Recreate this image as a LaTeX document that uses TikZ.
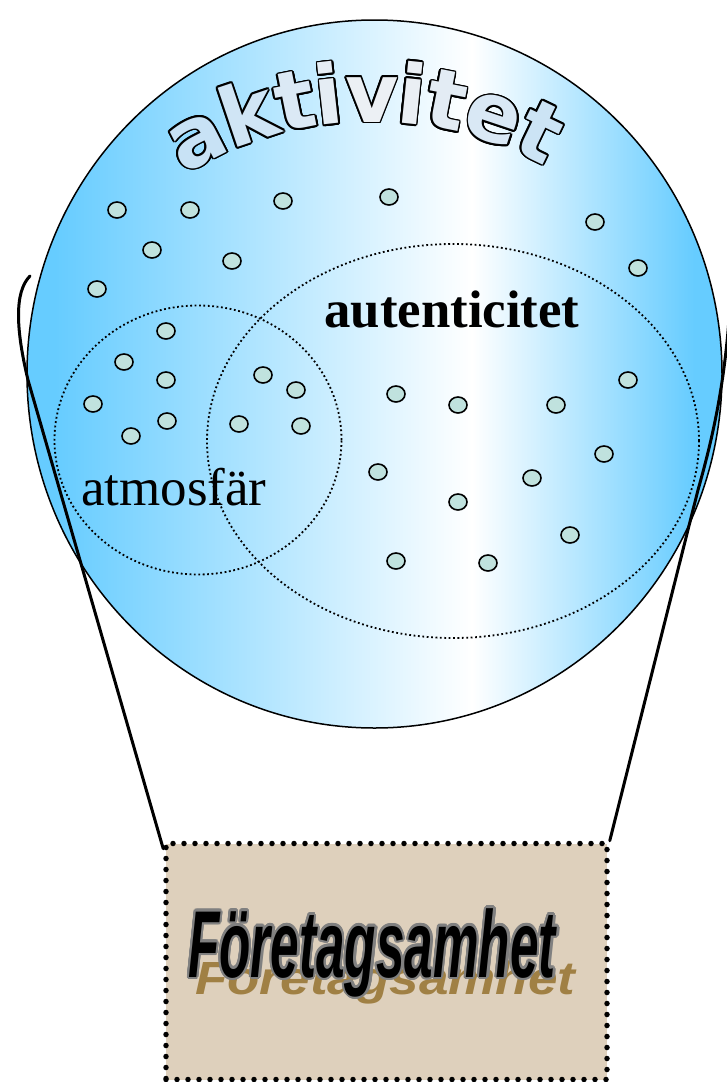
\documentclass[tikz,border=0pt]{standalone}
\usepackage{fontspec}
\setmainfont{Liberation Serif}
\newfontfamily\rubrikfont{DejaVu Sans}
\newfontfamily\firmafont{Liberation Sans}
\usepackage{graphicx}
\usepackage[copies]{contour}
\usetikzlibrary{shapes.geometric}

\definecolor{himmel}{RGB}{102,204,255}
\definecolor{prickfarg}{RGB}{192,226,222}
\definecolor{sack}{RGB}{222,208,188}
\definecolor{skugga}{RGB}{160,128,68}
\definecolor{bokstav}{RGB}{200,226,245}
\definecolor{bokstavgra}{RGB}{242,242,244}

\pgfdeclarehorizontalshading{ballongskugga}{100bp}{color(0bp)=(himmel); color(27bp)=(himmel); color(57bp)=(white); color(73bp)=(himmel); color(100bp)=(himmel)}

\tikzset{
  prick/.style={ellipse, draw, line width=1.6pt, fill=prickfarg, minimum width=18pt, minimum height=16pt, inner sep=0pt},
  mangd/.style={ellipse, draw, line width=1.8pt, dash pattern=on 1.8pt off 2.6pt, inner sep=0pt},
  rep/.style={line width=3pt, line cap=round},
  rubrik/.style={anchor=base, inner sep=0pt, font=\rubrikfont\bfseries\fontsize{82}{84}\selectfont},
}

\begin{document}
\begin{tikzpicture}[x=1pt, y=-1pt]
\useasboundingbox (0,0) rectangle (727,1082);
% ballongen
\node[ellipse, draw, line width=1.5pt, shade, shading=ballongskugga, minimum width=695pt, minimum height=708pt, inner sep=0pt] (ballong) at (374.5,374) {};
% mängderna
\node[mangd, minimum width=287pt, minimum height=269pt] (atmosmangd) at (198,440) {};
\node[mangd, minimum width=492pt, minimum height=394pt] (autentmangd) at (453,441) {};
\node[anchor=base, inner sep=0pt, font=\fontsize{52.8}{60}\selectfont\bfseries] (autent) at (452,327) {autenticitet};
\node[anchor=base west, inner sep=0pt, font=\fontsize{53}{60}\selectfont] (atmos) at (81,505) {atmosfär};
% prickar
\foreach \pos [count=\i] in {(117,210),(190,210),(283,201),(389,197),(595,222),(638,268),(152,250),(232,261),(97,289),
  (166,331),(124,362),(166,380),(93,404),(167,421),(131,436),(263,375),(296,390),(239,424),(301,426),
  (396,394),(458,405),(556,405),(628,380),(604,454),(378,472),(458,502),(532,478),(570,535),(396,561),(488,563)}
  \node[prick] (p\i) at \pos {};
% rubrik i båge
\foreach \ch/\ang/\ton [count=\i] in {a/-27.1/100,k/-18.6/80,t/-11.4/55,i/-6.4/30,v/0/15,i/5.9/20,t/11.1/35,e/18.5/60,t/25.7/90}
  \node[rubrik, rotate=-\ang] (akt\i) at ([shift={(372,482)}] \ang-90:360)
    {\color{bokstav!\ton!bokstavgra}\contourlength{1.7pt}\contour{black}{\ch}};
% korgen
\node[draw, line width=5.5pt, dash pattern=on 0pt off 11pt, line cap=round, fill=sack, minimum width=441pt, minimum height=236pt, inner sep=0pt] (firma) at (386.5,961.5) {};
\node[anchor=base west, inner sep=0pt, text=skugga, font=\firmafont\bfseries\itshape\fontsize{93}{95}\selectfont] (skuggtext) at (195,994) {\scalebox{0.57}[0.5]{Företagsamhet}};
\node[anchor=base west, inner sep=0pt, font=\firmafont\bfseries\itshape\fontsize{95}{97}\selectfont] (firmatext) at (188,977) {\color{black}\contourlength{2.2pt}\contour{gray}{\scalebox{0.54}[1]{Företagsamhet}}};
% linorna
\coordinate (vanster) at (30,276);
\coordinate (hoger) at (731,285);
\draw[rep] (vanster) .. controls (14,292) and (16,330) .. (28,380) -- ([yshift=-8pt]firma.north west);
\draw[rep] (firma.north east) -- (698,490) .. controls (712,440) and (727,380) .. (hoger);
\end{tikzpicture}
\end{document}
